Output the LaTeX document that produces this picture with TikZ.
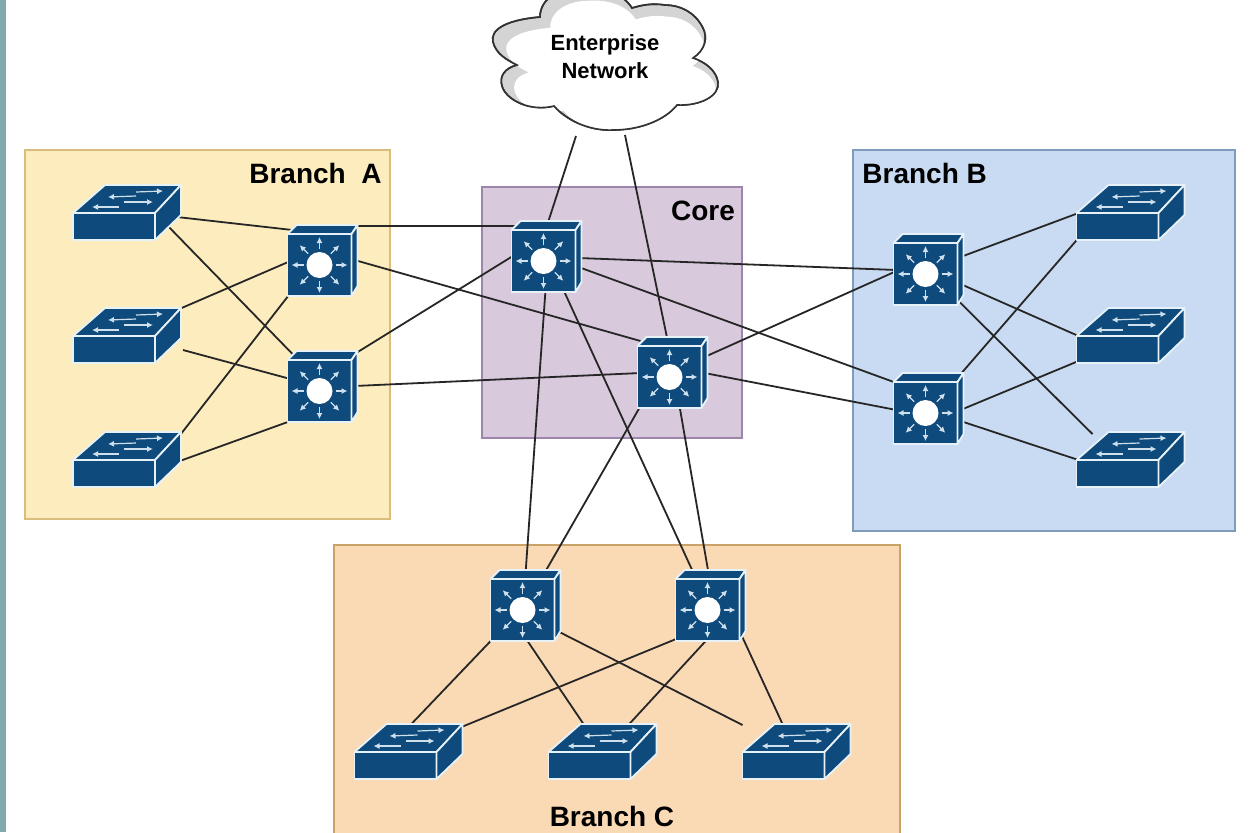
\documentclass[tikz,border=0pt]{standalone}
\usepackage{fontspec}
\usetikzlibrary{arrows.meta}
\setmainfont{Liberation Sans}
\definecolor{swblue}{HTML}{0E4A7B}
\definecolor{swedge}{HTML}{E6F1F8}
\definecolor{swarrow}{HTML}{CFE0EC}
\tikzset{
  l2box/.style={rectangle,inner sep=0pt,minimum width=55pt,minimum height=27pt},
  l3box/.style={rectangle,inner sep=0pt,minimum width=35pt,minimum height=35pt},
  link/.style={color=black!85,line width=0.9pt},
  icoface/.style={fill=swblue,draw=swedge,line width=0.9pt,line join=round},
  icoarrow/.style={color=swarrow,line width=0.6pt,-{Latex[length=3pt,width=3pt]}},
  panel/.style={line width=1pt},
  branchlabel/.style={inner sep=0pt,font=\bfseries\fontsize{14}{16}\selectfont},
  l2sw/.pic={
    \draw[icoface] (-54,0) -- (28,0) -- (28,27) -- (-54,27) -- cycle;
    \draw[icoface] (-54,0) -- (-22,-28) -- (54,-28) -- (28,0) -- cycle;
    \draw[icoface] (28,0) -- (54,-28) -- (54,2) -- (28,27) -- cycle;
    \draw[icoarrow] (9,-17) -- (-19,-16);
    \draw[icoarrow] (9,-21) -- (36,-22);
    \draw[icoarrow] (-3,-11) -- (26,-11);
    \draw[icoarrow] (-8,-6) -- (-35,-6);
  },
  l3sw/.pic={
    \draw[icoface] (-35,-27) -- (29,-27) -- (29,35) -- (-35,35) -- cycle;
    \draw[icoface] (-35,-27) -- (-26,-36) -- (35,-36) -- (29,-27) -- cycle;
    \draw[icoface] (29,-27) -- (35,-36) -- (35,25) -- (29,35) -- cycle;
    \fill[white] (-3,4) circle (13);
    \foreach \a in {0,45,...,315}
      \draw[icoarrow] ([shift={(-3,4)}]\a:16) -- ([shift={(-3,4)}]\a:28);
  },
}
\newcommand{\cloudpath}{(540,17) .. controls (505,20) and (490,30) .. (493,42)
  .. controls (496,54) and (507,60) .. (517,65)
  .. controls (505,68) and (499,76) .. (502,86)
  .. controls (506,100) and (530,112) .. (554,106)
  .. controls (570,124) and (595,131) .. (613,130)
  .. controls (640,130) and (665,120) .. (677,105)
  .. controls (700,106) and (720,96) .. (718,82)
  .. controls (716,70) and (705,62) .. (693,58)
  .. controls (705,50) and (708,38) .. (703,28)
  .. controls (695,12) and (680,5) .. (665,5)
  .. controls (652,3) and (642,5) .. (632,8)
  .. controls (622,-8) and (600,-14) .. (580,-12)
  .. controls (560,-12) and (540,-2) .. (540,17) -- cycle}
\begin{document}
\begin{tikzpicture}[x=0.5pt,y=-0.5pt]
  \clip (0,0) rectangle (1248,832);
  \fill[white] (0,0) rectangle (1248,832);
  \fill[color={rgb,255:red,127;green,171;blue,173}] (0,0) rectangle (6,832);
  % branches
  \draw[panel,fill={rgb,255:red,253;green,236;blue,190},draw={rgb,255:red,217;green,189;blue,126}] (25,150) rectangle (390,519);
  \draw[panel,fill={rgb,255:red,216;green,201;blue,220},draw={rgb,255:red,157;green,133;blue,171}] (482,187) rectangle (742,438);
  \draw[panel,fill={rgb,255:red,201;green,219;blue,243},draw={rgb,255:red,127;green,156;blue,189}] (853,150) rectangle (1235,531);
  \draw[panel,fill={rgb,255:red,250;green,217;blue,181},draw={rgb,255:red,201;green,163;blue,106}] (334,545) rectangle (900,860);
  \node[branchlabel,anchor=east] (labela) at (382,173) {Branch\ \ A};
  \node[branchlabel] (labelcore) at (703,211) {Core};
  \node[branchlabel,anchor=west] (labelb) at (862,173) {Branch B};
  \node[branchlabel] (labelc) at (612,816) {Branch C};
  % cloud
  \draw[color=black!80,line width=0.8pt,fill=black!17] \cloudpath;
  \begin{scope}
    \clip \cloudpath;
    \fill[white,shift={(48,12)},scale=0.93] \cloudpath;
  \end{scope}
  \draw[color=black!80,line width=0.8pt] \cloudpath;
  \node[align=center,font=\bfseries\fontsize{11}{14}\selectfont] (cloud) at (605,57) {Enterprise\\Network};
  % devices
  \node[l2box] (A1) at (127,213) {};
  \node[l2box] (A2) at (127,336) {};
  \node[l2box] (A3) at (127,460) {};
  \node[l2box] (B1) at (1130.5,213) {};
  \node[l2box] (B2) at (1130.5,336) {};
  \node[l2box] (B3) at (1130.5,460) {};
  \node[l2box] (D1) at (408.5,752) {};
  \node[l2box] (D2) at (602.5,752) {};
  \node[l2box] (D3) at (796.5,752) {};
  \node[l3box] (a1) at (322.5,261) {};
  \node[l3box] (a2) at (322.5,387) {};
  \node[l3box] (c1) at (546.5,257) {};
  \node[l3box] (c2) at (672.5,373) {};
  \node[l3box] (b1) at (928.5,270) {};
  \node[l3box] (b2) at (928.5,409) {};
  \node[l3box] (d1) at (525.5,606) {};
  \node[l3box] (d2) at (710.5,606) {};
  % branch A links
  \draw[link] ([shift={(50,4)}]A1.center) -- ([shift={(-30,-31)}]a1.center);
  \draw[link] ([shift={(38,10)}]A1.center) -- ([shift={(-30,-33)}]a2.center);
  \draw[link] ([shift={(50,-26)}]A2.center) -- ([shift={(-32,0)}]a1.center);
  \draw[link] ([shift={(56,14)}]A2.center) -- ([shift={(-32,-8)}]a2.center);
  \draw[link] ([shift={(50,-21)}]A3.center) -- ([shift={(-32,32)}]a1.center);
  \draw[link] ([shift={(50,2)}]A3.center) -- ([shift={(-32,34)}]a2.center);
  % core links
  \draw[link] ([shift={(32,-35)}]a1.center) -- ([shift={(-32,-31)}]c1.center);
  \draw[link] ([shift={(32,-1)}]a1.center) -- ([shift={(-32,-32)}]c2.center);
  \draw[link] ([shift={(32,-33)}]a2.center) -- ([shift={(-32,-2)}]c1.center);
  \draw[link] ([shift={(32,-1)}]a2.center) -- ([shift={(-32,0)}]c2.center);
  \draw[link] ([shift={(-29,79)}]cloud.center) -- ([shift={(1,-33)}]c1.center);
  \draw[link] ([shift={(20,78)}]cloud.center) -- ([shift={(-5,-33)}]c2.center);
  % branch B links
  \draw[link] ([shift={(32,1)}]c1.center) -- ([shift={(-32,0)}]b1.center);
  \draw[link] ([shift={(32,10)}]c1.center) -- ([shift={(-32,-26)}]b2.center);
  \draw[link] ([shift={(32,-16)}]c2.center) -- ([shift={(-32,1)}]b1.center);
  \draw[link] ([shift={(32,0)}]c2.center) -- ([shift={(-32,1)}]b2.center);
  \draw[link] ([shift={(32,-13)}]b1.center) -- ([shift={(-52,0)}]B1.center);
  \draw[link] ([shift={(32,14)}]b1.center) -- ([shift={(-52,0)}]B2.center);
  \draw[link] ([shift={(27,28)}]b1.center) -- ([shift={(-38,-26)}]B3.center);
  \draw[link] ([shift={(27,-29)}]b2.center) -- ([shift={(-52,25)}]B1.center);
  \draw[link] ([shift={(32,1)}]b2.center) -- ([shift={(-52,25)}]B2.center);
  \draw[link] ([shift={(32,12)}]b2.center) -- ([shift={(-52,0)}]B3.center);
  % branch C links
  \draw[link] ([shift={(-1,33)}]c1.center) -- ([shift={(0,-32)}]d1.center);
  \draw[link] ([shift={(17,33)}]c1.center) -- ([shift={(-17,-33)}]d2.center);
  \draw[link] ([shift={(-32,33)}]c2.center) -- ([shift={(19,-33)}]d1.center);
  \draw[link] ([shift={(7,33)}]c2.center) -- ([shift={(-2,-33)}]d2.center);
  \draw[link] ([shift={(-32,32)}]d1.center) -- ([shift={(0,-25)}]D1.center);
  \draw[link] ([shift={(0,32)}]d1.center) -- ([shift={(-19,-28)}]D2.center);
  \draw[link] ([shift={(26,22)}]d1.center) -- ([shift={(-54,-27)}]D3.center);
  \draw[link] ([shift={(-32,32)}]d2.center) -- ([shift={(53,-25)}]D1.center);
  \draw[link] ([shift={(-2,32)}]d2.center) -- ([shift={(24,-25)}]D2.center);
  \draw[link] ([shift={(30,27)}]d2.center) -- ([shift={(-14,-28)}]D3.center);
  % icons
  \foreach \n in {A1,A2,A3,B1,B2,B3,D1,D2,D3}
    \pic at (\n) {l2sw};
  \foreach \n in {a1,a2,c1,c2,b1,b2,d1,d2}
    \pic at (\n) {l3sw};
\end{tikzpicture}
\end{document}
